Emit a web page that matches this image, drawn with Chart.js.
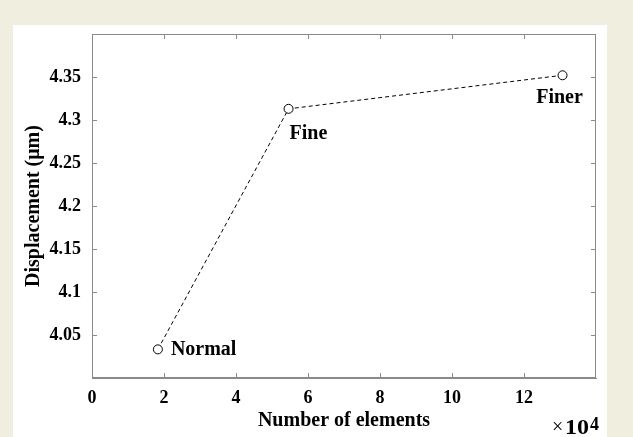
<!DOCTYPE html>
<html>
<head>
<meta charset="utf-8">
<script src="https://cdn.jsdelivr.net/npm/chart.js@4"></script>
<style>
  html, body { margin: 0; padding: 0; background: #f0eedf; }
  #wrap { position: absolute; left: 13px; top: 25px; width: 594px; height: 412px; background: #fff; }
</style>
</head>
<body>
<div id="wrap"><canvas id="myChart" width="594" height="412"></canvas></div>
<script>
// mesh sizes (x 10^4 elements) and max displacement in micrometres
var meshNames = ["Normal", "Fine", "Finer"]
var elements = [1.83, 5.46, 13.07]
var displacement = [4.0333, 4.313, 4.352]

var AXIS_GREY = "#8a8a8a"
var SERIF = "'Liberation Serif', 'Times New Roman', serif"

// MATLAB style box: inward ticks on all four sides, point labels, x10^4 exponent
var matlabBox = {
  id: "matlabBox",
  afterDatasetsDraw: function(chart) {
    var ctx = chart.ctx
    var a = chart.chartArea
    var xs = chart.scales.x, ys = chart.scales.y
    ctx.save()
    ctx.strokeStyle = AXIS_GREY
    ctx.lineWidth = 1
    ctx.strokeRect(a.left + 0.5, a.top + 0.5, a.right - a.left - 1, a.bottom - a.top - 1)
    ctx.beginPath()
    xs.ticks.forEach(function(t) {
      var px = Math.round(xs.getPixelForValue(t.value)) + 0.5
      ctx.moveTo(px, a.bottom); ctx.lineTo(px, a.bottom - 5)
      ctx.moveTo(px, a.top); ctx.lineTo(px, a.top + 5)
    })
    ys.ticks.forEach(function(t) {
      var py = Math.round(ys.getPixelForValue(t.value)) + 0.5
      ctx.moveTo(a.left, py); ctx.lineTo(a.left + 5, py)
      ctx.moveTo(a.right, py); ctx.lineTo(a.right - 5, py)
    })
    ctx.stroke()

    // point names
    var pts = chart.getDatasetMeta(0).data
    ctx.fillStyle = "#000"
    ctx.font = "bold 20px " + SERIF
    ctx.textBaseline = "alphabetic"
    ctx.textAlign = "left"
    ctx.fillText(meshNames[0], pts[0].x + 13, pts[0].y + 6)
    ctx.fillText(meshNames[1], pts[1].x + 1, pts[1].y + 30)
    ctx.textAlign = "center"
    ctx.fillText(meshNames[2], pts[2].x - 3, pts[2].y + 28)

    // exponent
    ctx.textAlign = "left"
    ctx.font = "20px " + SERIF
    ctx.fillText("\u00d7", a.right - 44, a.bottom + 55)
    ctx.save()
    ctx.translate(a.right - 31, a.bottom + 56)
    ctx.scale(1.2, 1)
    ctx.font = "bold 20px " + SERIF
    ctx.fillText("10", 0, 0)
    ctx.restore()
    ctx.font = "bold 18px " + SERIF
    ctx.fillText("4", a.right - 6, a.bottom + 52)
    ctx.restore()
  }
}

var ctx = document.getElementById("myChart").getContext("2d")
var chart = new Chart(ctx, {
  type: "scatter",
  data: {
    datasets: [{
      data: elements.map(function(x, i) { return { x: x, y: displacement[i] } }),
      showLine: true,
      borderColor: "#000",
      borderWidth: 1,
      borderDash: [4, 3],
      pointRadius: 4.5,
      pointBorderWidth: 1,
      pointBorderColor: "#000",
      pointBackgroundColor: "#fff"
    }]
  },
  options: {
    responsive: false,
    animation: false,
    layout: { padding: { top: 9, right: 11, left: 0, bottom: 0 } },
    plugins: { legend: { display: false }, tooltip: { enabled: false } },
    scales: {
      x: {
        type: "linear",
        min: 0, max: 14,
        afterFit: function(s) { s.height = 59; s.paddingLeft = 0; s.paddingRight = 0 },
        grid: { display: false },
        border: { color: AXIS_GREY },
        ticks: {
          stepSize: 2,
          padding: 2,
          color: "#000",
          font: { family: SERIF, size: 18, weight: "bold" },
          callback: function(v) { return v > 13 ? null : v }
        },
        title: {
          display: true,
          text: "Number of elements",
          color: "#000",
          padding: { top: 0, bottom: 4 },
          font: { family: SERIF, size: 20, weight: "bold" }
        }
      },
      y: {
        min: 4.0, max: 4.4,
        afterFit: function(s) { s.width = 79; s.paddingTop = 0; s.paddingBottom = 0 },
        grid: { display: false },
        border: { color: AXIS_GREY },
        ticks: {
          stepSize: 0.05,
          padding: 3,
          color: "#000",
          font: { family: SERIF, size: 18, weight: "bold" },
          callback: function(v) {
            if (v < 4.01 || v > 4.39) return null
            return Number(v.toFixed(2)).toString()
          }
        },
        title: {
          display: true,
          text: "Displacement (\u03bcm)",
          color: "#000",
          padding: { top: 9, bottom: 0 },
          font: { family: SERIF, size: 20, weight: "bold" }
        }
      }
    }
  },
  plugins: [matlabBox]
})
</script>
</body>
</html>
